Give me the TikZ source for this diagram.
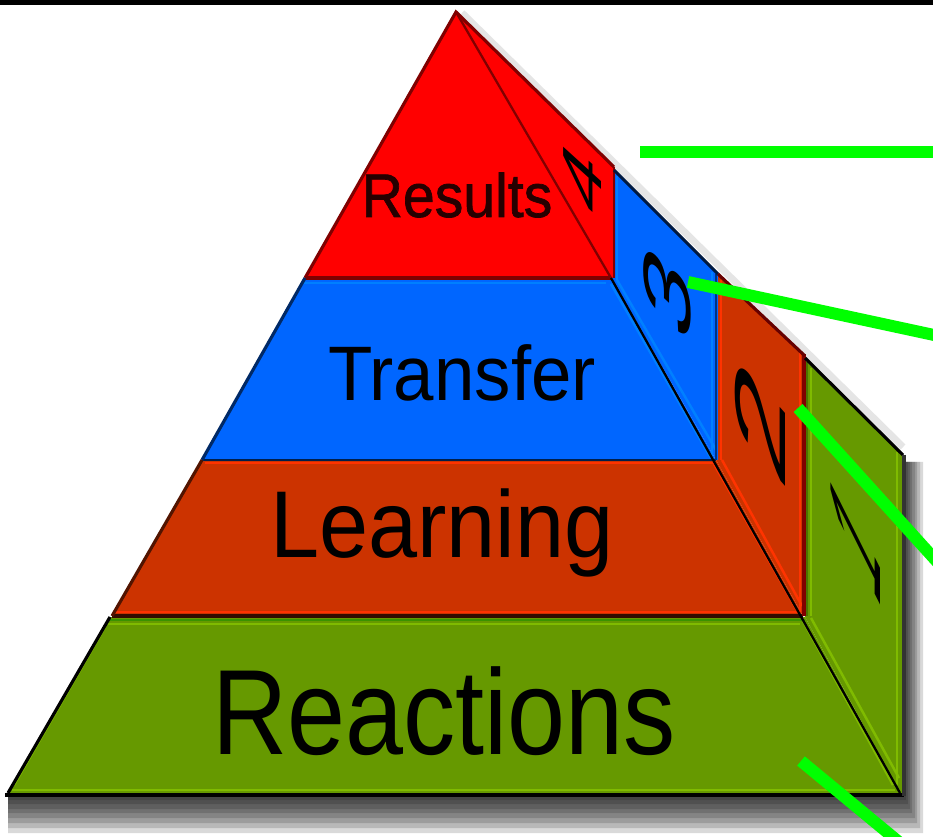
\documentclass[tikz,border=0pt]{standalone}
\usepackage{fontspec}
\setmainfont{Liberation Sans}
\newfontfamily\heavyfont[FakeBold=1.2]{Liberation Sans}
\tikzset{
  tier/.style={line width=1.8pt,line join=miter},
  lead/.style={draw=leadgreen,line width=6.8pt},
  word/.style={inner sep=0pt,transform shape},
  digit/.style={inner sep=0pt,transform shape,font=\fontsize{57}{57}\selectfont}
}
\definecolor{leadgreen}{RGB}{0,255,0}
\definecolor{resred}{RGB}{255,0,0}
\definecolor{resdark}{RGB}{128,0,0}
\definecolor{trblue}{RGB}{0,102,255}
\definecolor{trlight}{RGB}{0,128,255}
\definecolor{learnor}{RGB}{204,51,0}
\definecolor{learnlight}{RGB}{255,51,0}
\definecolor{reactgr}{RGB}{102,153,0}
\definecolor{reactlight}{RGB}{128,187,0}
\begin{document}
\begin{tikzpicture}[x=0.02cm,y=-0.02cm]
  \useasboundingbox (0,0) rectangle (933,837);
  \clip (0,0) rectangle (933,837);

  \fill[white] (0,0) rectangle (933,837);
  \fill[black] (0,0) rectangle (933,5);

  \coordinate (apex) at (456,12);
  \coordinate (resL) at (305,278);
  \coordinate (resR) at (611,278);
  \coordinate (trL) at (202,460);
  \coordinate (trR) at (716,460);
  \coordinate (leL) at (112,616);
  \coordinate (leR) at (803,616);
  \coordinate (reL) at (110,617);
  \coordinate (reR) at (805,617);
  \coordinate (baseL) at (8,793);
  \coordinate (baseR) at (900,793);

  % soft shadow
  \foreach \r/\b in {2/5,4/9,6/14,8/18,11/23,13/28,16/33,19/38}
    \fill[black,opacity=.15] (8,795) rectangle (904+\r,795+\b)
      (904,462) rectangle (904+\r,795);
  \draw[black!10,line width=4pt] (462,13) -- (903,447);

  % right hand faces
  \fill[resred] (apex) -- (614,167) -- (614,278) -- (resR) -- cycle;
  \fill[trblue] (614,170) -- (718,274) -- (718,460) -- (trR) -- (resR) -- (614,278) -- cycle;
  \fill[learnor] (718,274) -- (805,357) -- (805,616) -- (leR) -- (trR) -- (718,460) -- cycle;
  \fill[reactgr] (805,360) -- (903,456) -- (903,793) -- (baseR) -- (reR) -- cycle;

  % front faces
  \fill[resred] (apex) -- (resR) -- (resL) -- cycle;
  \fill[trblue] (resL) -- (resR) -- (trR) -- (trL) -- cycle;
  \fill[learnor] (trL) -- (trR) -- (leR) -- (leL) -- cycle;
  \fill[reactgr] (reL) -- (reR) -- (baseR) -- (baseL) -- cycle;

  % edges of the faces
  \draw[trlight,line width=1.4pt] (302,283) -- (606,283);
  \draw[learnlight,line width=1.6pt] (205,463) -- (714,463);
  \draw[learnlight,line width=1.6pt] (114,612) -- (800,612);
  \draw[reactlight,line width=1.2pt] (108,624) -- (800,624);
  \draw[reactlight,line width=1.6pt] (12,790) -- (895,790);
  \draw[learnlight,line width=1.6pt] (721,280) -- (721,460);
  \draw[learnlight,line width=1.6pt] (800,352) -- (800,612);
  \draw[trlight,line width=1.6pt] (617,176) -- (617,280);
  \draw[trlight,line width=1.4pt] (712,272) -- (712,456);
  \draw[reactlight,line width=1.6pt] (811,368) -- (811,616);
  \draw[reactlight,line width=1.4pt] (897,452) -- (897,785);
  \draw[reactlight,line width=1.4pt] (105,627) -- (14,785);
  \draw[trlight,line width=1.4pt] (611,284) -- (712,460);
  \draw[trlight,line width=1.4pt] (617,280) -- (716,450);
  \draw[learnlight,line width=1.4pt] (714,464) -- (798,612);
  \draw[learnlight,line width=1.4pt] (722,460) -- (802,606);
  \draw[reactlight,line width=1.4pt] (803,621) -- (893,785);
  \draw[reactlight,line width=1.4pt] (811,618) -- (899,778);

  \draw[resdark,line width=1.8pt] (resL) -- (resR);
  \draw[black!70!trblue,line width=1.4pt] (trL) -- (trR);
  \draw[black!75!learnor,line width=1.8pt] (leL) -- (leR);
  \draw[reactgr!70!green!80!black,line width=1.2pt] (108,620) -- (805,620);
  \draw[resdark,line width=1.5pt] (614,167) -- (614,278);
  \draw[black!50!trblue,line width=1.2pt] (716,274) -- (716,460);
  \draw[resdark,line width=1.8pt] (804,354) -- (804,616);
  \draw[black!25!reactgr,line width=1.4pt] (807,362) -- (807,616);

  % outline
  \draw[resdark,tier] (resL) -- (apex) -- (614,167);
  \draw[black!60!trblue,tier] (resL) -- (trL);
  \draw[black!60!learnor,tier] (trL) -- (leL);
  \draw[black,tier] (reL) -- (baseL);
  \draw[black!75!trblue,tier] (614,170) -- (718,274);
  \draw[black!60!red,tier] (718,274) -- (805,356);
  \draw[black,tier] (805,358) -- (903,455);
  \draw[black,line width=2.2pt] (5,795) -- (904,795);
  \draw[black!80,line width=2.6pt] (904,455) -- (904,796);
  \draw[resdark,line width=1.3pt] (apex) -- (resR);
  \draw[black,line width=1.3pt] (resR) -- (baseR);

  \node[word,xscale=.86,font=\fontsize{69}{69}\selectfont] (reactions) at (444,711) {Reactions};
  \node[word,xscale=.93,font=\fontsize{54}{54}\selectfont] (learning) at (442,533) {Learning};
  \node[word,xscale=.94,font=\fontsize{44}{44}\selectfont] (transfer) at (462,373) {Transfer};
  \node[word,xscale=.93,text=black!85!red,font=\heavyfont\fontsize{35}{35}\selectfont] (results) at (457,195) {Results};

  \node[digit,cm={0,.95,-.55,.5,(0,0)}] (four) at (583,179) {4};
  \node[digit,cm={0,1.2,-.67,.63,(0,0)}] (three) at (667,292) {3};
  \node[digit,cm={0,1.6,-.72,.82,(0,0)}] (two) at (760,421) {2};
  \node[digit,cm={0,.85,-.72,1.45,(0,0)}] (one) at (856,538) {1};

  \coordinate (leadAs) at (640,152);
  \coordinate (leadAe) at (934,152);
  \coordinate (leadBs) at (688,282);
  \coordinate (leadBe) at (934,335);
  \coordinate (leadCs) at (798,408);
  \coordinate (leadCe) at (940,565);
  \coordinate (leadDs) at (801,761);
  \coordinate (leadDe) at (905,847);
  \draw[lead] (leadAs) -- (leadAe);
  \draw[lead] (leadBs) -- (leadBe);
  \draw[lead] (leadCs) -- (leadCe);
  \draw[lead] (leadDs) -- (leadDe);
\end{tikzpicture}
\end{document}
